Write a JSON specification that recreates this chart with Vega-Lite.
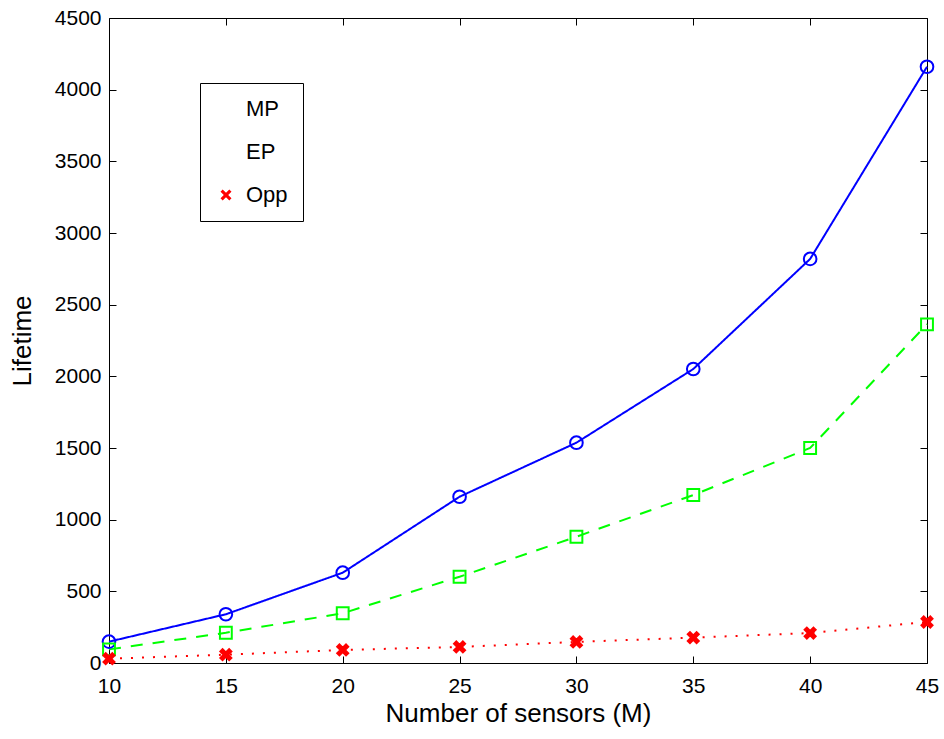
{
  "$schema": "https://vega.github.io/schema/vega-lite/v6.json",
  "width": 818,
  "height": 645,
  "autosize": {"type": "none"},
  "padding": {"left": 109, "top": 18, "right": 17, "bottom": 76},
  "background": "white",
  "config": {
    "view": {"stroke": null},
    "font": "Liberation Sans",
    "axis": {
      "grid": false,
      "domainColor": "black",
      "domainWidth": 1,
      "tickColor": "black",
      "tickWidth": 1,
      "tickSize": -7,
      "labelFlush": false,
      "labelFont": "Liberation Sans",
      "labelFontSize": 21,
      "labelColor": "black",
      "titleFont": "Liberation Sans",
      "titleFontSize": 26,
      "titleFontWeight": "normal",
      "titleColor": "black"
    }
  },
  "data": {
    "values": [
      {"M": 10, "series": "MP", "lifetime": 149},
      {"M": 15, "series": "MP", "lifetime": 340},
      {"M": 20, "series": "MP", "lifetime": 630},
      {"M": 25, "series": "MP", "lifetime": 1160},
      {"M": 30, "series": "MP", "lifetime": 1537},
      {"M": 35, "series": "MP", "lifetime": 2051},
      {"M": 40, "series": "MP", "lifetime": 2819},
      {"M": 45, "series": "MP", "lifetime": 4160},
      {"M": 10, "series": "EP", "lifetime": 95},
      {"M": 15, "series": "EP", "lifetime": 211},
      {"M": 20, "series": "EP", "lifetime": 347},
      {"M": 25, "series": "EP", "lifetime": 602},
      {"M": 30, "series": "EP", "lifetime": 881},
      {"M": 35, "series": "EP", "lifetime": 1172},
      {"M": 40, "series": "EP", "lifetime": 1500},
      {"M": 45, "series": "EP", "lifetime": 2363},
      {"M": 10, "series": "Opp", "lifetime": 30},
      {"M": 15, "series": "Opp", "lifetime": 58},
      {"M": 20, "series": "Opp", "lifetime": 91},
      {"M": 25, "series": "Opp", "lifetime": 112},
      {"M": 30, "series": "Opp", "lifetime": 147},
      {"M": 35, "series": "Opp", "lifetime": 177},
      {"M": 40, "series": "Opp", "lifetime": 209},
      {"M": 45, "series": "Opp", "lifetime": 286}
    ]
  },
  "resolve": {"axis": {"x": "independent", "y": "independent"}},
  "layer": [
    {
      "mark": {"type": "line", "strokeWidth": 2},
      "encoding": {
        "x": {
          "field": "M", "type": "quantitative",
          "scale": {"domain": [10, 45], "nice": false, "zero": false},
          "axis": {"values": [10, 15, 20, 25, 30, 35, 40, 45], "title": "Number of sensors (M)", "labelPadding": 19, "titlePadding": 4}
        },
        "y": {
          "field": "lifetime", "type": "quantitative",
          "scale": {"domain": [0, 4500], "nice": false},
          "axis": {"values": [0, 500, 1000, 1500, 2000, 2500, 3000, 3500, 4000, 4500], "format": "d", "title": "Lifetime", "labelPadding": 15, "titlePadding": 19}
        },
        "color": {
          "field": "series", "type": "nominal",
          "scale": {"domain": ["MP", "EP", "Opp"], "range": ["#0000ff", "#00ff00", "#ff0000"]},
          "legend": {
            "title": null, "orient": "none", "legendX": 91, "legendY": 65,
            "padding": 15, "strokeColor": "black", "fillColor": "white",
            "symbolType": "stroke", "symbolSize": 5625, "symbolStrokeWidth": 2,
            "clipHeight": 22, "rowPadding": 21, "labelOffset": 9,
            "labelFont": "Liberation Sans", "labelFontSize": 22, "labelColor": "black",
            "encode": {
              "symbols": {
                "update": {
                  "shape": {"signal": "datum.value === 'MP' ? 'M-1,-0.027L1,-0.027L1,0.027L-1,0.027Z M0.187,0L0.173,0.072L0.132,0.132L0.072,0.173L0,0.187L-0.072,0.173L-0.132,0.132L-0.173,0.072L-0.187,0L-0.173,-0.072L-0.132,-0.132L-0.072,-0.173L0,-0.187L0.072,-0.173L0.132,-0.132L0.173,-0.072Z M0.133,0L0.123,-0.051L0.094,-0.094L0.051,-0.123L0,-0.133L-0.051,-0.123L-0.094,-0.094L-0.123,-0.051L-0.133,0L-0.123,0.051L-0.094,0.094L-0.051,0.123L0,0.133L0.051,0.123L0.094,0.094L0.123,0.051Z' : datum.value === 'EP' ? 'M-0.98,-0.027L-0.63,-0.027L-0.63,0.027L-0.98,0.027Z M0.51,-0.027L0.87,-0.027L0.87,0.027L0.51,0.027Z M-0.187,-0.187L0.187,-0.187L0.187,0.187L-0.187,0.187Z M-0.133,-0.133L-0.133,0.133L0.133,0.133L0.133,-0.133Z M-0.133,-0.027L0.133,-0.027L0.133,0.027L-0.133,0.027Z' : 'M-1,-0.04L-0.95,-0.04L-0.95,0.04L-1,0.04Z M-0.71,-0.04L-0.66,-0.04L-0.66,0.04L-0.71,0.04Z M-0.43,-0.04L-0.38,-0.04L-0.38,0.04L-0.43,0.04Z M0.4,-0.04L0.45,-0.04L0.45,0.04L0.4,0.04Z M0.69,-0.04L0.74,-0.04L0.74,0.04L0.69,0.04Z M0.95,-0.04L1,-0.04L1,0.04L0.95,0.04Z M-0.16,-0.096L-0.096,-0.16L0,-0.064L0.096,-0.16L0.16,-0.096L0.064,0L0.16,0.096L0.096,0.16L0,0.064L-0.096,0.16L-0.16,0.096L-0.064,0Z'"},
                  "size": {"value": 5625},
                  "fill": {"signal": "datum.value === 'MP' ? '#0000ff' : datum.value === 'EP' ? '#00ff00' : '#ff0000'"},
                  "fillOpacity": {"value": 1},
                  "stroke": {"value": "transparent"},
                  "strokeWidth": {"value": 0},
                  "opacity": {"value": 1}
                }
              }
            }
          }
        },
        "strokeDash": {
          "field": "series", "type": "nominal",
          "scale": {"domain": ["MP", "EP", "Opp"], "range": [[1, 0], [12, 10], [2, 9]]},
          "legend": null
        }
      }
    },
    {
      "mark": {"type": "point", "strokeWidth": 2, "opacity": 1},
      "encoding": {
        "x": {
          "field": "M", "type": "quantitative",
          "axis": {"orient": "top", "values": [10, 15, 20, 25, 30, 35, 40, 45], "labels": false, "title": null}
        },
        "y": {
          "field": "lifetime", "type": "quantitative",
          "axis": {"orient": "right", "values": [0, 500, 1000, 1500, 2000, 2500, 3000, 3500, 4000, 4500], "labels": false, "title": null}
        },
        "stroke": {
          "field": "series", "type": "nominal",
          "scale": {"domain": ["MP", "EP", "Opp"], "range": ["#0000ff", "#00ff00", "#ff0000"]},
          "legend": null
        },
        "fill": {
          "field": "series", "type": "nominal",
          "scale": {"domain": ["MP", "EP", "Opp"], "range": ["transparent", "transparent", "#ff0000"]},
          "legend": null
        },
        "size": {
          "field": "series", "type": "nominal",
          "scale": {"domain": ["MP", "EP", "Opp"], "range": [160, 121, 150]},
          "legend": null
        },
        "shape": {
          "field": "series", "type": "nominal",
          "scale": {
            "domain": ["MP", "EP", "Opp"],
            "range": ["circle", "square", "M-1,-0.6L-0.6,-1L0,-0.4L0.6,-1L1,-0.6L0.4,0L1,0.6L0.6,1L0,0.4L-0.6,1L-1,0.6L-0.4,0Z"]
          },
          "legend": null
        }
      }
    }
  ]
}
